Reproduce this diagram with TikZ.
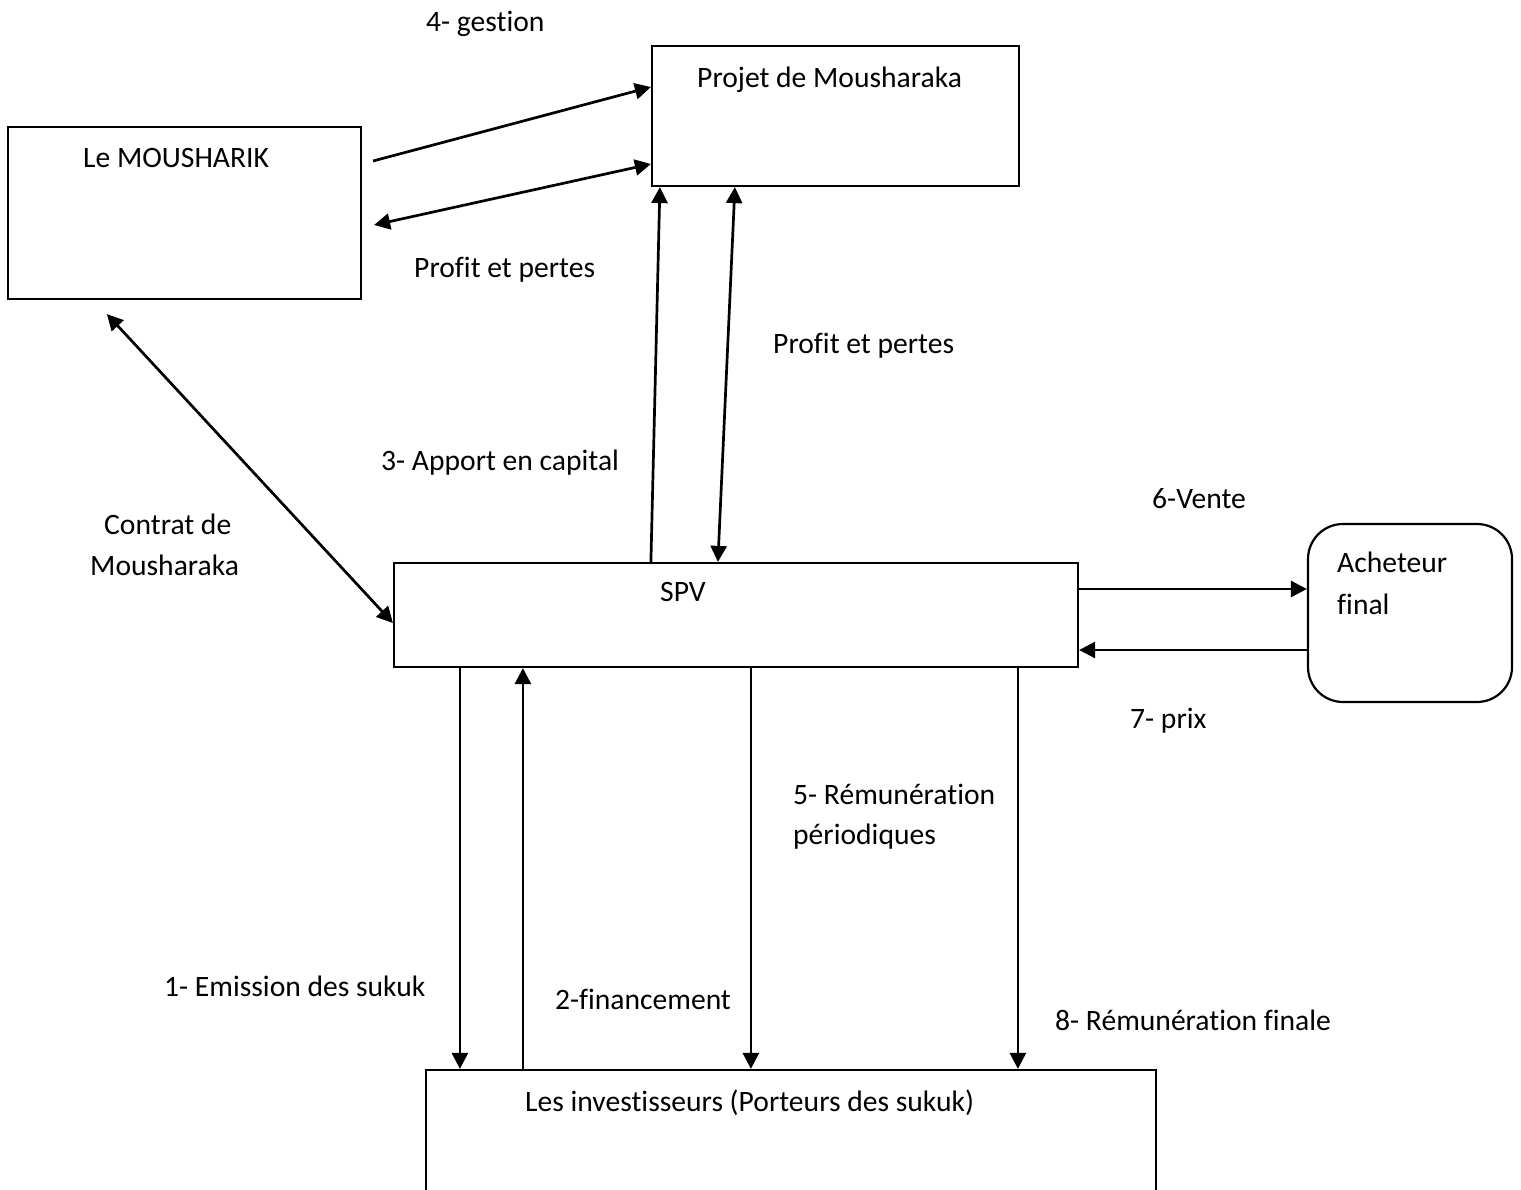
\documentclass[tikz,border=0pt]{standalone}
\usepackage{fontspec}
\setmainfont[Ligatures=NoCommon]{Carlito}
\usetikzlibrary{calc,arrows.meta}
\begin{document}
\begin{tikzpicture}[x=1pt,y=-1pt,
  box/.style={draw,line width=2.2pt,inner sep=0pt},
  txt/.style={anchor=base west,inner sep=0pt,font=\fontsize{29.6}{41}\selectfont},
  tip/.tip={Triangle[length=16pt,width=16pt]},
  arr/.style={line width=2.7pt,-tip},
  darr/.style={line width=2.7pt,tip-tip}]
\clip (0,0) rectangle (1521,1190);
\useasboundingbox (0,0) rectangle (1521,1190);

% boxes
\node[box,minimum width=353pt,minimum height=172pt] (mou) at (184.5,213) {};
\node[box,minimum width=367pt,minimum height=140pt] (proj) at (835.5,116) {};
\node[box,minimum width=684pt,minimum height=104pt] (spv) at (736,615) {};
\node[box,rounded corners=35pt,minimum width=204pt,minimum height=178pt] (ach) at (1410,613) {};
\node[box,minimum width=730pt,minimum height=160pt] (inv) at (791,1150) {};

% box titles
\node[txt] (tmou) at (83,168) {Le MOUSHARIK};
\node[txt] (tproj) at (697,88) {Projet de Mousharaka};
\node[txt] (tspv) at (660,601) {SPV};
\node[txt] (tach1) at (1337,572) {Acheteur};
\node[txt] (tach2) at (1337,614) {final};
\node[txt] (tinv) at (525,1111) {Les investisseurs (Porteurs des sukuk)};

% flow labels
\node[txt] (l4) at (426,32) {4- gestion};
\node[txt] (lpp1) at (414,278) {Profit et pertes};
\node[txt] (lpp2) at (773,353) {Profit et pertes};
\node[txt] (l3) at (381,470) {3- Apport en capital};
\node[txt] (lc1) at (104,534) {Contrat de};
\node[txt] (lc2) at (90,575) {Mousharaka};
\node[txt] (l6) at (1152,508) {6-Vente};
\node[txt] (l7) at (1130,728) {7- prix};
\node[txt] (l5a) at (793,804) {5- Rémunération};
\node[txt] (l5b) at (793,844) {périodiques};
\node[txt] (l1) at (164,996) {1- Emission des sukuk};
\node[txt] (l2) at (555,1009) {2-financement};
\node[txt] (l8) at (1055,1030) {8- Rémunération finale};

% connectors between Mousharik and the project
\draw[arr] ($(mou.east)+(11,-52)$) -- ($(proj.west)+(0,-29)$);
\draw[darr] ($(mou.east)+(12,12)$) -- ($(proj.west)+(0,48)$);
% Mousharaka contract
\draw[darr] ($(mou.south west)+(100,14)$) -- ($(spv.west)+(0,8)$);
% capital and profit between SPV and the project
\draw[arr] ($(spv.north west)+(258,0)$) -- ($(proj.south west)+(9,0)$);
\draw[darr] ($(proj.south west)+(84,0)$) -- ($(spv.north west)+(325,0)$);
% sale and price
\draw[arr] ($(spv.east)+(0,-26)$) -- ($(ach.west)+(0,-24)$);
\draw[arr] ($(ach.west)+(0,37)$) -- ($(spv.east)+(0,35)$);
% flows between SPV and investors
\draw[arr] ($(spv.south west)+(67,0)$) -- ($(inv.north west)+(35,0)$);
\draw[arr] ($(inv.north west)+(98,0)$) -- ($(spv.south west)+(130,0)$);
\draw[arr] ($(spv.south west)+(358,0)$) -- ($(inv.north west)+(326,0)$);
\draw[arr] ($(spv.south west)+(625,0)$) -- ($(inv.north west)+(593,0)$);
\end{tikzpicture}
\end{document}
